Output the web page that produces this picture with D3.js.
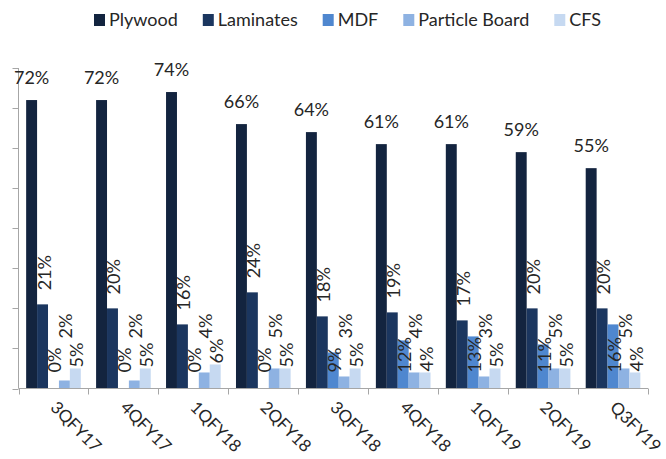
<!DOCTYPE html>
<html>
<head>
<meta charset="utf-8">
<script src="https://cdn.jsdelivr.net/npm/d3@7"></script>
<style>
  body { margin: 0; background: #fff; }
  text { font-family: Lato, "Open Sans", sans-serif; fill: #262626; }
</style>
</head>
<body>
<div id="chart"></div>
<script>
// data (percent)
var categories = ["3QFY17", "4QFY17", "1QFY18", "2QFY18", "3QFY18", "4QFY18", "1QFY19", "2QFY19", "Q3FY19"];
var seriesNames = ["Plywood", "Laminates", "MDF", "Particle Board", "CFS"];
var plywood = [72, 72, 74, 66, 64, 61, 61, 59, 55];
var laminates = [21, 20, 16, 24, 18, 19, 17, 20, 20];
var mdf = [0, 0, 0, 0, 9, 12, 13, 11, 16];
var particleBoard = [2, 2, 4, 5, 3, 4, 3, 5, 5];
var cfs = [5, 5, 6, 5, 5, 4, 5, 5, 4];
var yTicks = [0, 10, 20, 30, 40, 50, 60, 70, 80];

var seriesValues = [plywood, laminates, mdf, particleBoard, cfs];
var colors = ["#13243f", "#1b365f", "#4f87cf", "#8eb2e2", "#c6d9f1"];

var w = 666, h = 459;
var plotLeft = 18.5, plotRight = 648, plotTop = 68, plotBottom = 388.5;

var svg = d3.select("#chart").append("svg")
	.attr("width", w)
	.attr("height", h);

var x0 = d3.scaleBand()
	.domain(categories)
	.range([plotLeft, plotRight])
	.paddingInner(0)
	.paddingOuter(0);

var x1 = d3.scaleBand()
	.domain(seriesNames)
	.range([0, x0.bandwidth()])
	.paddingInner(0)
	.paddingOuter(0.7);

var y = d3.scaleLinear()
	.domain([0, 80])
	.range([plotBottom, plotTop]);

// y axis: line + tick marks, no labels
var yAxis = svg.append("g");
yAxis.append("line")
	.attr("x1", plotLeft).attr("x2", plotLeft)
	.attr("y1", plotTop).attr("y2", plotBottom)
	.attr("stroke", "#a6a6a6");
yAxis.selectAll("line.tick")
	.data(yTicks)
	.enter()
	.append("line")
	.attr("class", "tick")
	.attr("x1", plotLeft - 6).attr("x2", plotLeft)
	.attr("y1", function (d) { return Math.round(y(d)) + 0.5; })
	.attr("y2", function (d) { return Math.round(y(d)) + 0.5; })
	.attr("stroke", "#a6a6a6");

// rows of data, one per category
var rows = categories.map(function (c, i) {
	return seriesNames.map(function (s, j) {
		return { cat: c, series: s, idx: j, value: seriesValues[j][i] };
	});
});

var groups = svg.selectAll("g.cat")
	.data(rows)
	.enter()
	.append("g")
	.attr("class", "cat")
	.attr("transform", function (d, i) { return "translate(" + x0(categories[i]) + ",0)"; });

groups.selectAll("rect")
	.data(function (d) { return d; })
	.enter()
	.append("rect")
	.attr("x", function (d) { return x1(d.series); })
	.attr("width", x1.bandwidth())
	.attr("y", function (d) { return y(d.value); })
	.attr("height", function (d) { return plotBottom - y(d.value); })
	.attr("fill", function (d) { return colors[d.idx]; });

// x axis
var xAxis = svg.append("g");
xAxis.append("line")
	.attr("x1", plotLeft).attr("x2", plotRight)
	.attr("y1", plotBottom).attr("y2", plotBottom)
	.attr("stroke", "#a6a6a6");
xAxis.selectAll("line.tick")
	.data(d3.range(categories.length + 1))
	.enter()
	.append("line")
	.attr("class", "tick")
	.attr("x1", function (i) { return Math.round(plotLeft + i * x0.step()) + 0.5; })
	.attr("x2", function (i) { return Math.round(plotLeft + i * x0.step()) + 0.5; })
	.attr("y1", plotBottom).attr("y2", plotBottom + 6)
	.attr("stroke", "#a6a6a6");

xAxis.selectAll("text")
	.data(categories)
	.enter()
	.append("text")
	.attr("transform", function (d) {
		return "translate(" + (x0(d) + x0.bandwidth() / 2 - 4) + "," + (plotBottom + 20) + ") rotate(45)";
	})
	.style("font-size", "17px")
	.text(function (d) { return d; });

// value labels
function labelStart(d) {
	// where the rotated label begins (bottom end of the text)
	if (d.idx == 1) return y(d.value) - 14;
	if (d.idx == 2) return plotBottom - 16;
	if (d.idx == 3) return plotBottom - 50;
	return Math.min(plotBottom - 16, y(d.value) - 1);
}

groups.selectAll("text")
	.data(function (d) { return d; })
	.enter()
	.append("text")
	.style("font-size", "18px")
	.attr("text-anchor", function (d) { return d.idx == 0 ? "middle" : "start"; })
	.attr("transform", function (d) {
		var cx = x1(d.series) + x1.bandwidth() / 2;
		if (d.idx == 0) return "translate(" + cx + "," + (y(d.value) - 16) + ")";
		return "translate(" + (cx + 8) + "," + labelStart(d) + ") rotate(-90)";
	})
	.text(function (d) { return d.value + "%"; });

// legend
var legend = svg.append("g").attr("transform", "translate(94,0)");
var lx = 0;
seriesNames.forEach(function (s, i) {
	var item = legend.append("g").attr("transform", "translate(" + lx + ",0)");
	item.append("rect")
		.attr("x", 0).attr("y", 14)
		.attr("width", 11).attr("height", 12)
		.attr("fill", colors[i]);
	var t = item.append("text")
		.attr("x", 15).attr("y", 26)
		.style("font-size", "18px")
		.text(s);
	lx += 15 + t.node().getComputedTextLength() + 25;
});
</script>
</body>
</html>
